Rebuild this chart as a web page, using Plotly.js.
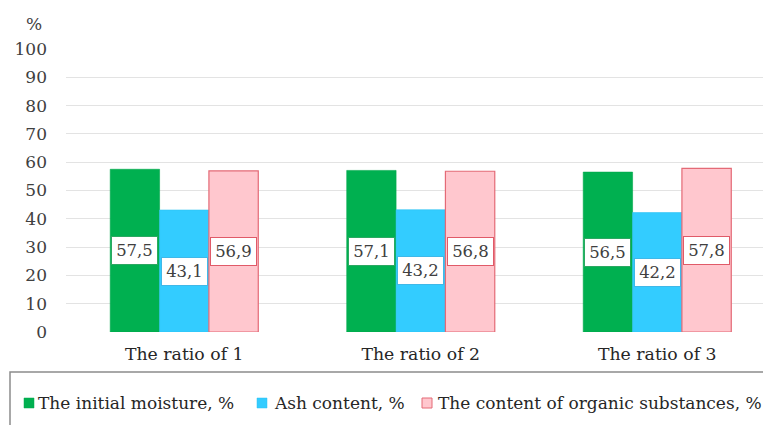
<!DOCTYPE html>
<html>
<head>
<meta charset="utf-8">
<script src="https://cdn.plot.ly/plotly-3.0.1.min.js"></script>
<style>
  html, body { margin: 0; padding: 0; background: #ffffff; }
  #chart { width: 763px; height: 425px; }
</style>
</head>
<body>
<div id="chart"></div>
<script>
// Sample groups and measured indicators
const categories = ["The ratio of 1", "The ratio of 2", "The ratio of 3"];
const seriesNames = ["The initial moisture, %", "Ash content, %", "The content of organic substances, %"];
const moisture = [57.5, 57.1, 56.5];
const ash = [43.1, 43.2, 42.2];
const organic = [56.9, 56.8, 57.8];
const yTicks = [0, 10, 20, 30, 40, 50, 60, 70, 80, 90, 100];

const seriesValues = [moisture, ash, organic];
const fillColors = ["#00B050", "#33CCFF", "#FFC7CE"];
const edgeColors = ["#00A84C", "#2EC2F2", "#E46A76"];
const labelBorders = ["#2BA862", "#3FB8E8", "#E05A68"];

const serif = "DejaVu Serif";
const W = 763, H = 425;
const M = { l: 66, r: 0, t: 49, b: 93 };
const plotW = W - M.l - M.r, plotH = H - M.t - M.b;
// pixel -> paper helpers for the legend strip below the plot
const px = v => (v - M.l) / plotW;
const py = v => (H - M.b - v) / plotH;

const bargap = 0.374;
const barW = (1 - bargap) / 3;
const xIdx = categories.map((_, i) => i);

const traces = seriesValues.map((vals, j) => ({
  type: "bar",
  name: seriesNames[j],
  x: xIdx,
  y: vals,
  marker: { color: fillColors[j], line: { color: edgeColors[j], width: j === 2 ? 1.2 : 0.6 } },
  hoverinfo: "skip",
  showlegend: false
}));

// Value labels: boxed, centred at half the bar height, decimal comma
const annotations = [];
seriesValues.forEach((vals, j) => {
  vals.forEach((v, i) => {
    annotations.push({
      xref: "x", yref: "y",
      x: i + (j - 1) * barW,
      y: v / 2,
      text: v.toFixed(1).replace(".", ","),
      showarrow: false,
      font: { family: serif, size: 16.5, color: "#404040" },
      bgcolor: "#ffffff",
      bordercolor: labelBorders[j],
      borderwidth: 1,
      borderpad: 1,
      width: 43,
      height: 25,
      align: "center",
      valign: "middle"
    });
  });
});

// Unit label above the value axis
annotations.push({
  xref: "paper", yref: "paper",
  x: px(34), y: py(24),
  xanchor: "center", yanchor: "middle",
  text: "%",
  showarrow: false,
  font: { family: serif, size: 17, color: "#404040" }
});

// Legend strip: swatch + caption per series
const legendSwatchX = [24, 257, 422];
const legendTextX = [36, 272, 436];
const legendY = 403;
const shapes = [{
  type: "rect",
  xref: "paper", yref: "paper",
  x0: px(10), x1: px(800),
  y0: py(372), y1: py(440),
  line: { color: "#8C8C8C", width: 1.5 },
  fillcolor: "rgba(0,0,0,0)",
  layer: "below"
}];
seriesNames.forEach((name, j) => {
  shapes.push({
    type: "rect",
    xref: "paper", yref: "paper",
    x0: px(legendSwatchX[j]), x1: px(legendSwatchX[j] + 10),
    y0: py(legendY - 5), y1: py(legendY + 5),
    fillcolor: fillColors[j],
    line: { color: edgeColors[j], width: j === 2 ? 1 : 0.5 }
  });
  annotations.push({
    xref: "paper", yref: "paper",
    x: px(legendTextX[j]), y: py(legendY),
    xanchor: "left", yanchor: "middle",
    text: name,
    showarrow: false,
    font: { family: serif, size: 17, color: "#262626" }
  });
});

const layout = {
  width: W,
  height: H,
  margin: { l: M.l, r: M.r, t: M.t, b: M.b, pad: 0 },
  paper_bgcolor: "#ffffff",
  plot_bgcolor: "#ffffff",
  barmode: "group",
  bargap: bargap,
  bargroupgap: 0,
  showlegend: false,
  xaxis: {
    type: "linear",
    range: [-0.5, -0.5 + plotW / 236.5],
    tickmode: "array",
    tickvals: xIdx,
    ticktext: categories,
    showgrid: false,
    zeroline: false,
    showline: false,
    ticks: "",
    ticklabelstandoff: 10,
    tickfont: { family: serif, size: 17.3, color: "#262626" },
    fixedrange: true
  },
  yaxis: {
    range: [0, 100],
    tickmode: "array",
    tickvals: yTicks,
    ticktext: yTicks.map(String),
    showgrid: true,
    gridcolor: "#E3E3E3",
    gridwidth: 1,
    zeroline: false,
    showline: false,
    ticks: "",
    ticklabelstandoff: 18,
    tickfont: { family: serif, size: 17, color: "#404040" },
    fixedrange: true
  },
  shapes: shapes,
  annotations: annotations
};

Plotly.newPlot("chart", traces, layout, { displayModeBar: false, staticPlot: true });
</script>
</body>
</html>
